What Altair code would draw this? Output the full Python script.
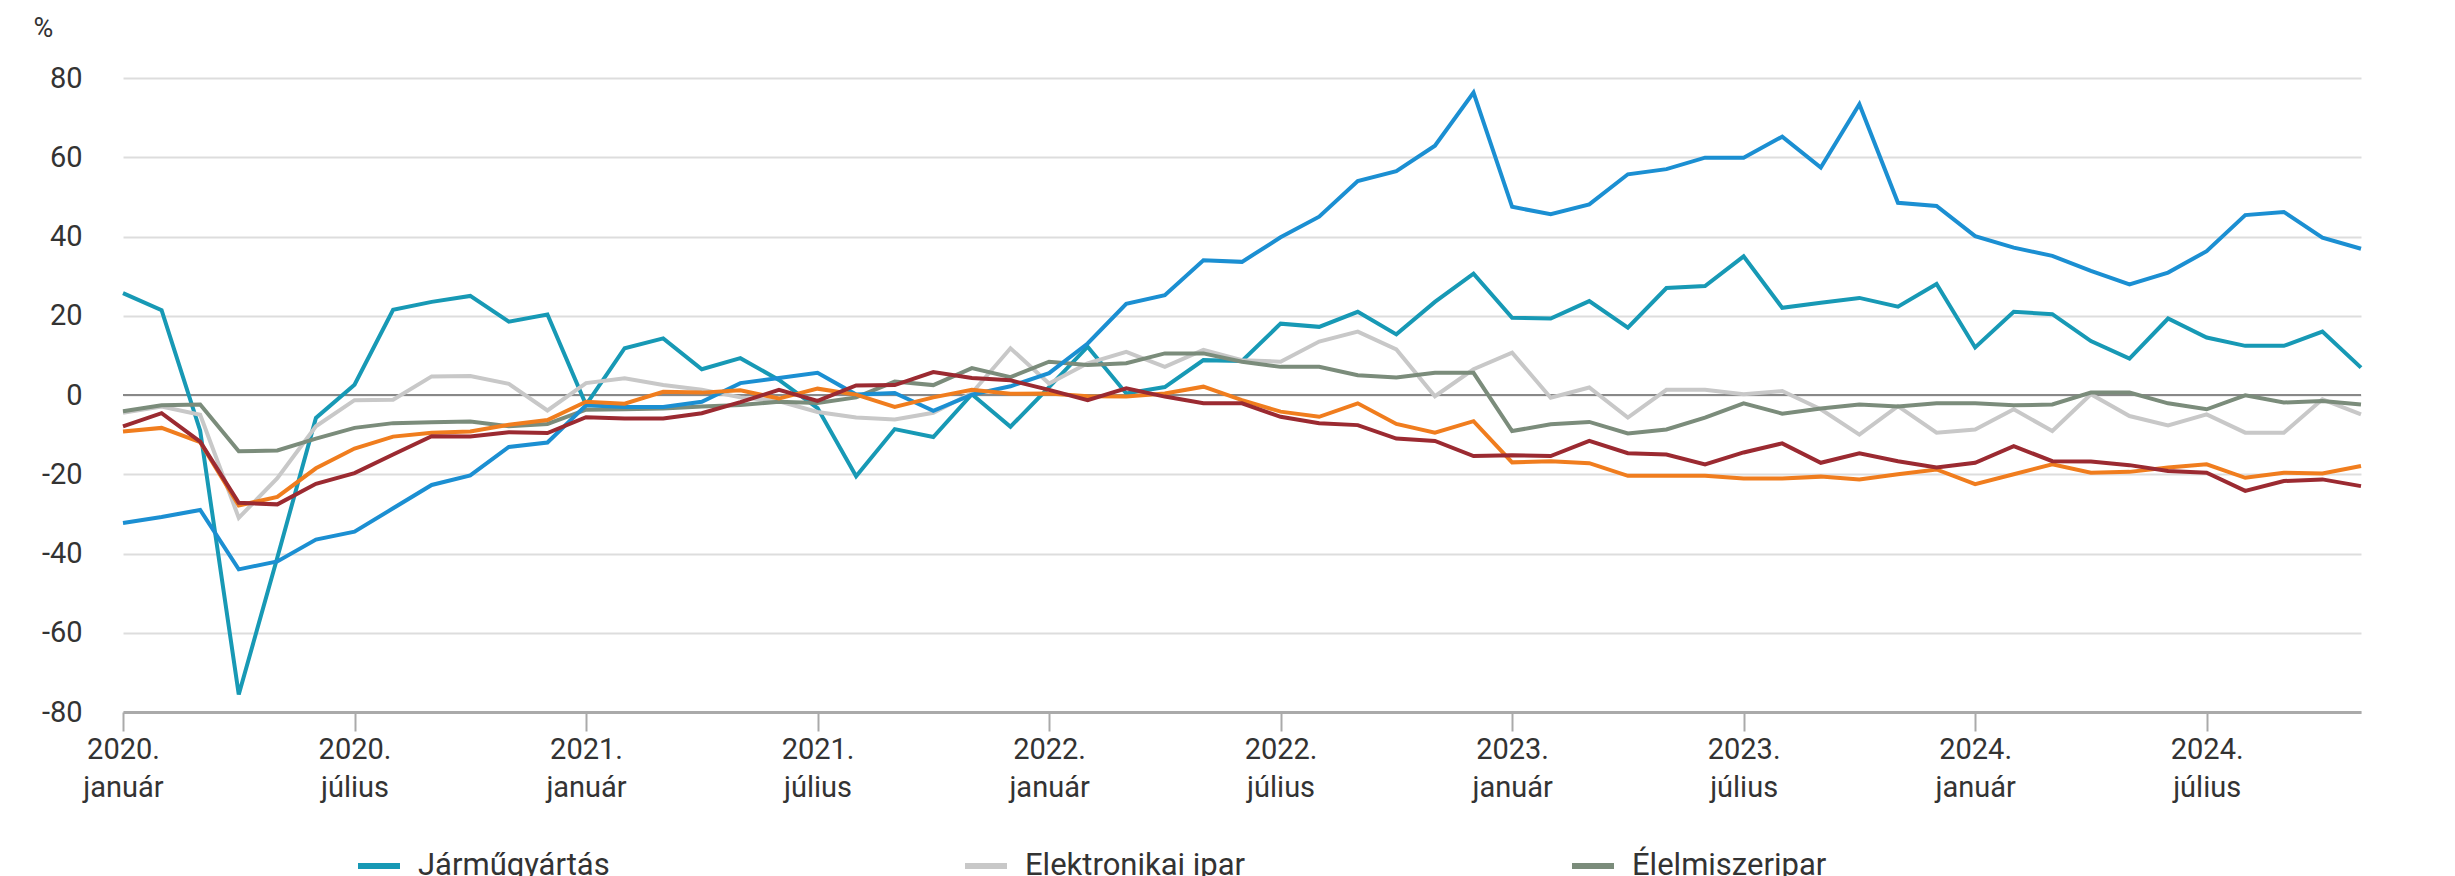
import json
import altair as alt
import pandas as pd

# Months: 2020-01 .. 2024-11 (59 months)
MONTHS = [f"{y}-{m:02d}" for y in range(2020, 2025) for m in range(1, 13)][:59]

SERIES = [
    "Járműgyártás",
    "Elektronikai ipar",
    "Élelmiszeripar",
    "Villamos berendezés gyártása",
    "Vegyi anyag, termék gyártása",
    "Fémalapanyag gyártása",
]
COLORS = ["#1799b5", "#c8c8c8", "#7b8c7b", "#1b8fd2", "#f07d1e", "#9b2a31"]

JARMU = [25.7, 21.4, -9.0, -75.6, -41.0, -5.8, 2.6, 21.5, 23.5, 25.0, 18.5, 20.3,
         -2.5, 11.8, 14.3, 6.5, 9.3, 3.8, -3.3, -20.5, -8.6, -10.6, 0.2, -8.0,
         2.0, 12.2, 0.4, 2.0, 8.8, 8.6, 18.0, 17.2, 21.0, 15.3, 23.5, 30.6,
         19.5, 19.3, 23.7, 17.0, 27.0, 27.5, 35.0, 22.0, 23.3, 24.5, 22.3, 28.0,
         12.0, 21.0, 20.4, 13.6, 9.2, 19.3, 14.5, 12.4, 12.4, 16.0, 6.9]
ELEKTRONIKA = [-4.5, -2.9, -5.0, -31.0, -21.0, -7.9, -1.3, -1.2, 4.7, 4.8, 2.8, -3.9,
               3.0, 4.2, 2.5, 1.3, -0.6, -1.6, -4.3, -5.7, -6.2, -4.5, 0.5, 11.8,
               2.9, 8.0, 10.9, 7.1, 11.4, 8.8, 8.4, 13.5, 16.0, 11.5, -0.3, 6.5,
               10.7, -0.7, 1.9, -5.7, 1.3, 1.3, 0.2, 1.0, -3.6, -10.0, -2.8, -9.5,
               -8.7, -3.6, -9.1, 0.2, -5.3, -7.7, -4.9, -9.5, -9.5, -1.1, -4.9]
ELELMISZER = [-4.1, -2.6, -2.4, -14.2, -14.0, -11.0, -8.3, -7.1, -6.9, -6.7, -7.9, -7.3,
              -3.7, -3.6, -3.4, -2.9, -2.5, -1.7, -2.0, -0.6, 3.4, 2.5, 6.8, 4.5,
              8.4, 7.6, 8.0, 10.5, 10.5, 8.4, 7.1, 7.1, 5.0, 4.4, 5.6, 5.6,
              -9.1, -7.4, -6.8, -9.7, -8.7, -5.7, -2.1, -4.7, -3.4, -2.4, -2.9, -2.1,
              -2.1, -2.6, -2.4, 0.6, 0.6, -2.1, -3.6, -0.1, -1.9, -1.5, -2.4]
VILLAMOS = [-32.3, -30.8, -29.0, -44.0, -42.0, -36.5, -34.5, -28.6, -22.7, -20.3, -13.1, -12.0,
            -2.6, -3.0, -3.0, -1.7, 3.0, 4.3, 5.6, 0.1, 0.5, -4.0, 0.1, 2.2,
            5.5, 13.0, 23.0, 25.2, 34.0, 33.6, 39.8, 45.0, 54.0, 56.5, 62.9, 76.3,
            47.5, 45.6, 48.1, 55.7, 57.0, 59.9, 59.9, 65.2, 57.4, 73.4, 48.5, 47.7,
            40.1, 37.2, 35.1, 31.3, 27.9, 30.9, 36.3, 45.4, 46.2, 39.7, 36.9]
VEGYI = [-9.2, -8.3, -11.9, -27.9, -25.7, -18.5, -13.5, -10.5, -9.5, -9.2, -7.5, -6.3,
         -1.7, -2.2, 0.8, 0.6, 1.2, -0.9, 1.6, 0.1, -3.0, -0.6, 1.3, 0.3,
         0.4, -0.3, -0.4, 0.4, 2.1, -1.3, -4.2, -5.5, -2.1, -7.3, -9.5, -6.6,
         -17.0, -16.7, -17.2, -20.4, -20.4, -20.4, -21.1, -21.1, -20.6, -21.3, -20.0, -18.8,
         -22.5, -20.0, -17.5, -19.6, -19.4, -18.3, -17.5, -20.9, -19.6, -19.8, -17.9]
FEM = [-7.9, -4.6, -11.8, -27.2, -27.6, -22.4, -19.7, -15.0, -10.4, -10.5, -9.4, -9.6,
       -5.6, -5.9, -5.9, -4.6, -1.8, 1.3, -1.5, 2.4, 2.5, 5.8, 4.3, 3.7,
       1.3, -1.3, 1.7, -0.4, -2.1, -2.1, -5.5, -7.1, -7.6, -11.0, -11.6, -15.4,
       -15.2, -15.4, -11.6, -14.7, -15.0, -17.5, -14.5, -12.2, -17.1, -14.7, -16.7, -18.3,
       -17.1, -12.9, -16.7, -16.8, -17.7, -19.2, -19.6, -24.2, -21.7, -21.3, -23.0]

TICK_POS = [0, 6, 12, 18, 24, 30, 36, 42, 48, 54]
TICK_LABELS = [["2020.", "január"], ["2020.", "július"], ["2021.", "január"],
               ["2021.", "július"], ["2022.", "január"], ["2022.", "július"],
               ["2023.", "január"], ["2023.", "július"], ["2024.", "január"],
               ["2024.", "július"]]
Y_TICKS = [-80, -60, -40, -20, 0, 20, 40, 60, 80]

rows = []
for name, vals in zip(SERIES, [JARMU, ELEKTRONIKA, ELELMISZER, VILLAMOS, VEGYI, FEM]):
    for i, v in enumerate(vals):
        rows.append({"i": i, "month": MONTHS[i], "series": name, "value": v})
df = pd.DataFrame(rows)

label_expr = json.dumps(TICK_LABELS, ensure_ascii=False) + "[round(datum.value / 6)]"

FONT = "Roboto"
TXT = "#333333"

x_enc = alt.X(
    "i:Q",
    scale=alt.Scale(domain=[0, 58], nice=False, zero=False),
    axis=alt.Axis(
        values=TICK_POS, labelExpr=label_expr, grid=False,
        domainColor="#aaaaaa", domainWidth=3, tickColor="#aaaaaa", tickWidth=2,
        tickSize=19, labelPadding=4, labelFontSize=29, labelColor=TXT,
        labelLineHeight=38, labelFont=FONT, labelOverlap=False,
        labelAlign="center", labelBaseline="top", title=None,
    ),
)
y_axis = alt.Axis(
    values=Y_TICKS, labelExpr="datum.value + ''", grid=True,
    gridColor="#dddddd", gridWidth=2, domain=False, ticks=False,
    labelPadding=41, labelFontSize=29, labelColor=TXT, labelFont=FONT,
    title="%", titleAngle=0, titleX=-90, titleY=-42, titleAlign="left",
    titleBaseline="alphabetic", titleFontWeight="normal", titleFontSize=27,
    titleColor=TXT, titleFont=FONT,
)
y_scale = alt.Scale(domain=[-80, 80], nice=False)

zero = alt.Chart(pd.DataFrame({"value": [0]})).mark_rule(
    color="#888888", strokeWidth=2
).encode(y=alt.Y("value:Q", scale=y_scale, axis=y_axis))

lines = alt.Chart(df).mark_line(strokeWidth=4).encode(
    x=x_enc,
    y=alt.Y("value:Q", scale=y_scale, axis=y_axis),
    color=alt.Color(
        "series:N",
        scale=alt.Scale(domain=SERIES, range=COLORS),
        sort=SERIES,
        legend=alt.Legend(
            title=None, orient="none", legendX=232, legendY=764,
            direction="horizontal", columns=3, symbolType="stroke",
            symbolSize=1764, symbolStrokeWidth=6, labelFontSize=31,
            labelColor=TXT, labelFont=FONT, labelOffset=15,
            columnPadding=238, gridAlign="all", labelLimit=300,
            rowPadding=20, padding=0,
        ),
    ),
    order=alt.Order("i:Q"),
)

chart = alt.layer(zero, lines).properties(
    width=2238,
    height=634,
    padding={"left": 115, "top": 70, "right": 86, "bottom": 200},
    autosize=alt.AutoSizeParams(type="none"),
    background="white",
).configure_view(stroke=None)

chart.save("out.html", embed_options={"renderer": "svg", "actions": False})
